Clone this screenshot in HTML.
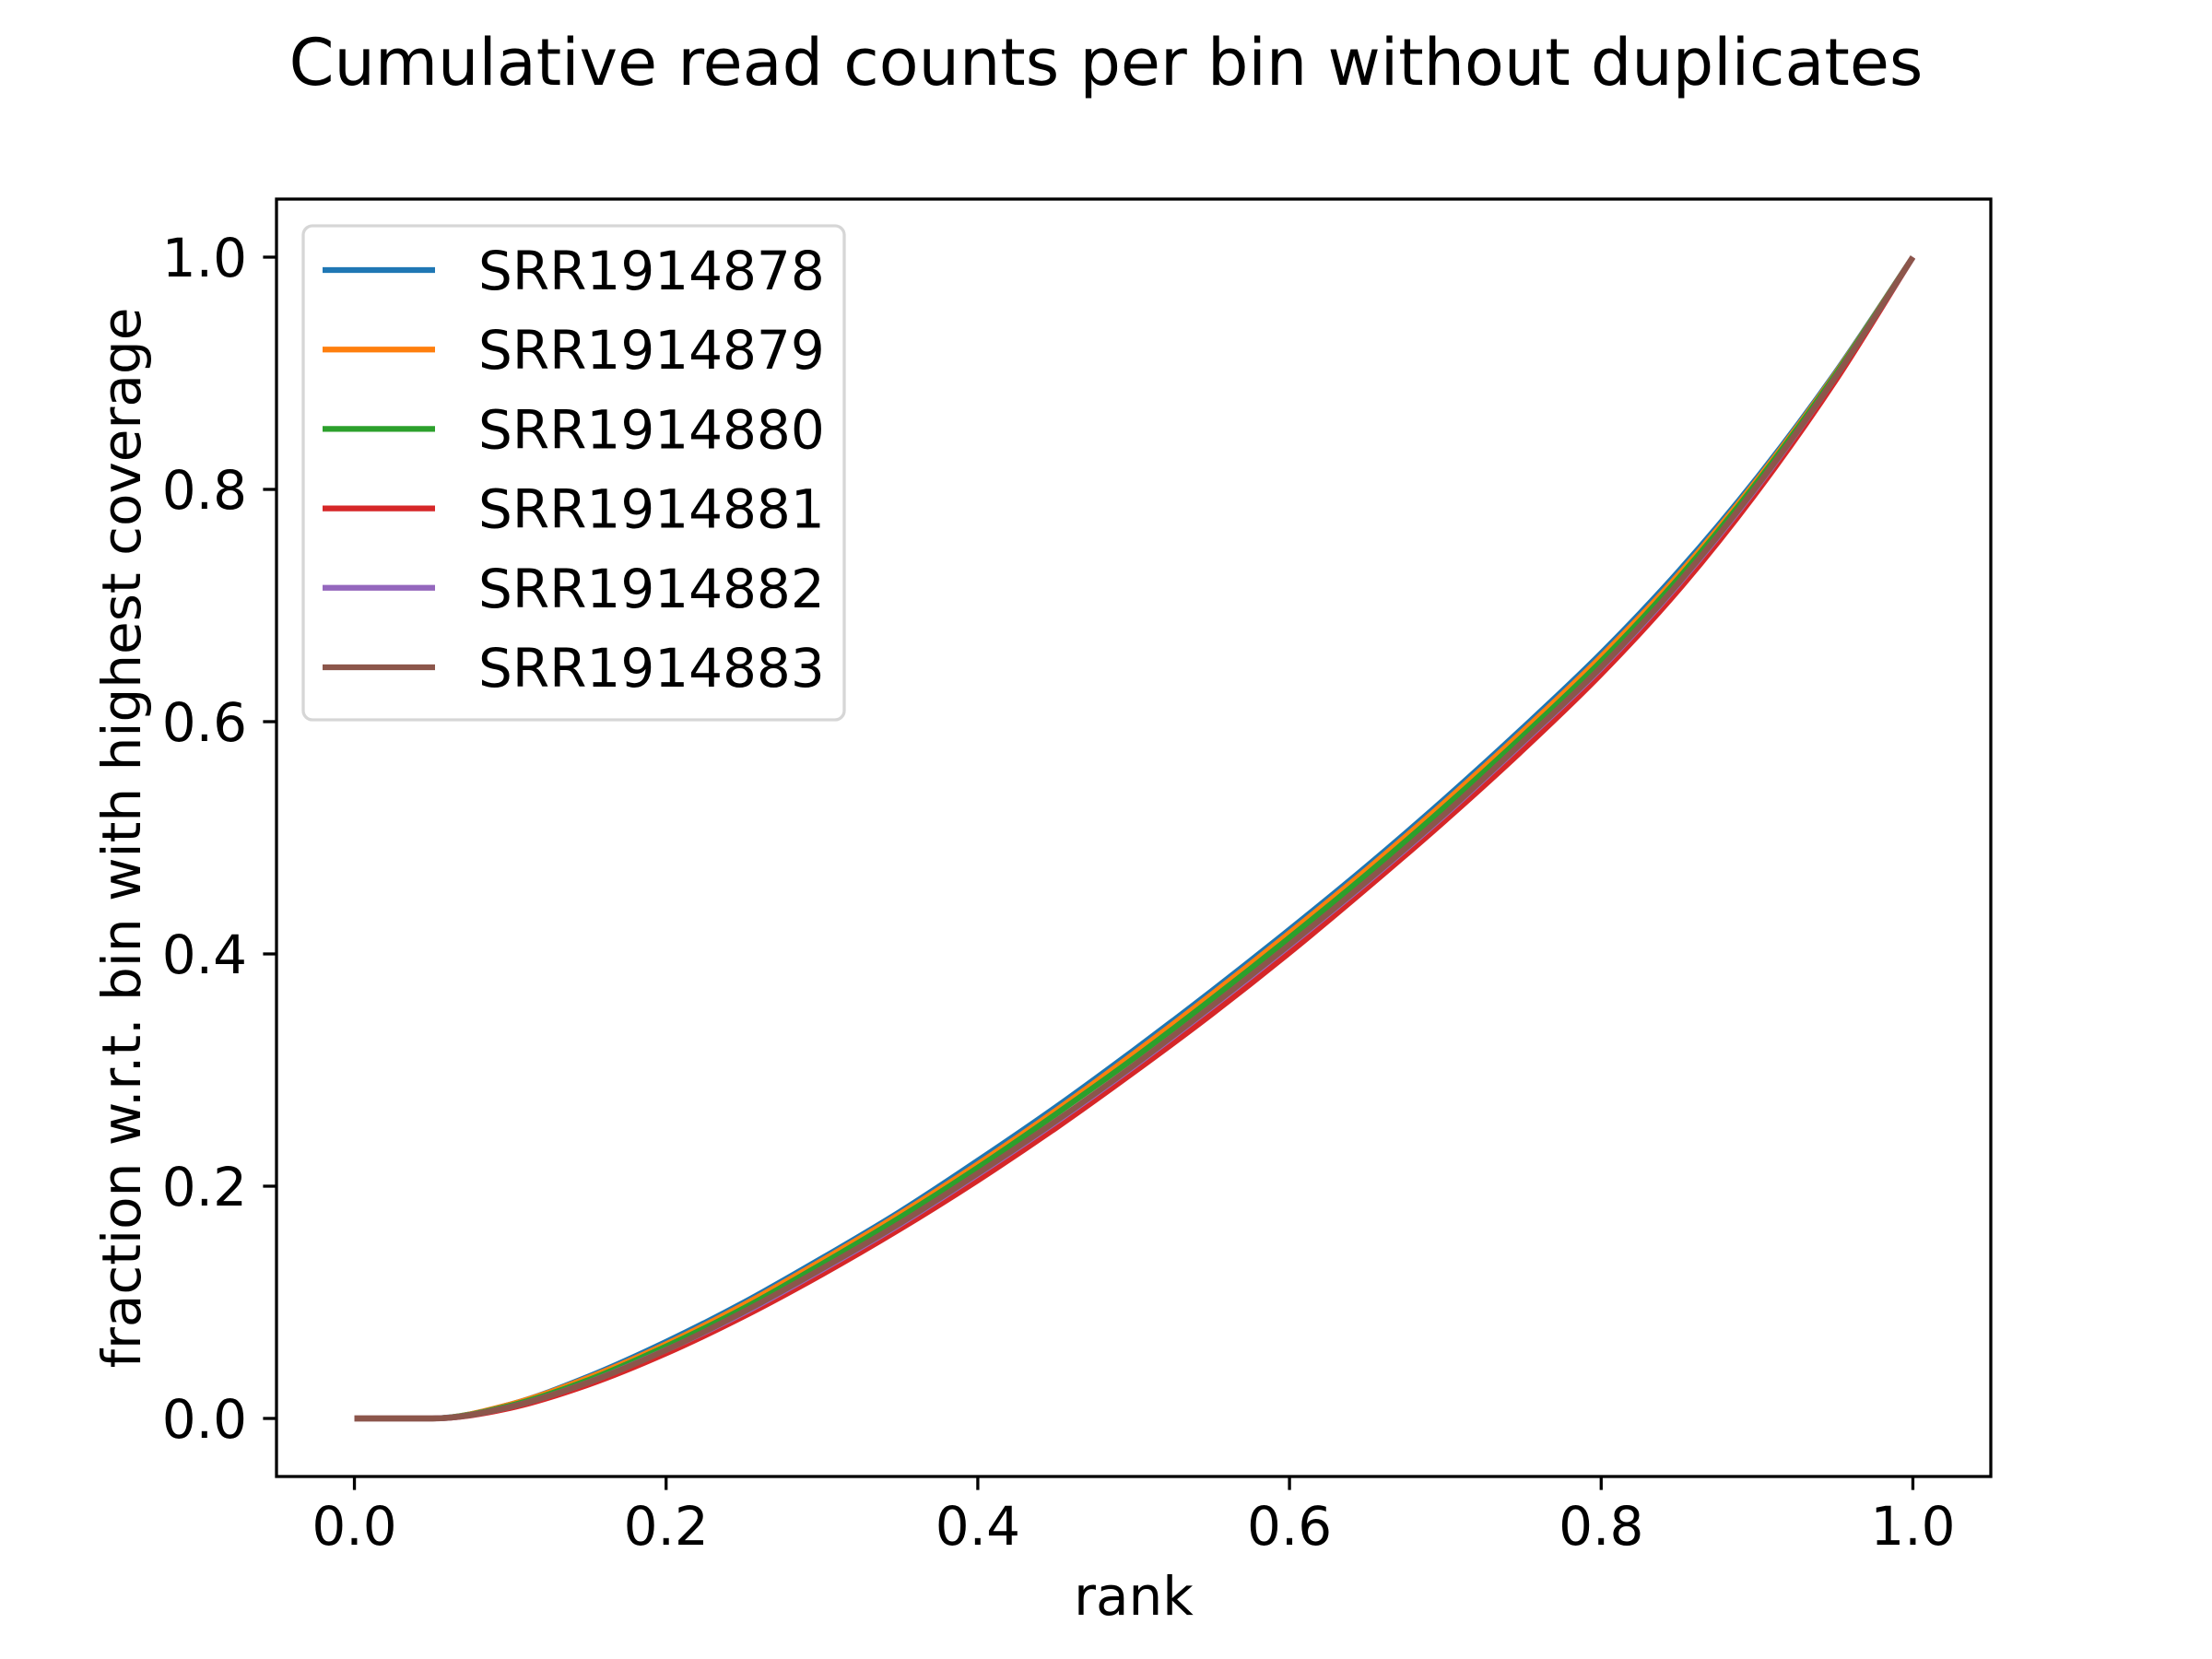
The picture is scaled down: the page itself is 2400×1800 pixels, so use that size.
<!DOCTYPE html>
<html><head><meta charset="utf-8"><style>
html,body{margin:0;padding:0;background:#fff}
svg{display:block}
text{font-family:"DejaVu Sans","Liberation Sans",sans-serif;fill:#000}
</style></head><body>
<svg id="chart" width="2400" height="1800" viewBox="0 0 2400 1800" xmlns="http://www.w3.org/2000/svg">
<text x="1200" y="92" font-size="70" text-anchor="middle">Cumulative read counts per bin without duplicates</text>
<g id="plot"></g>
<rect x="300" y="216" width="1860" height="1386" fill="none" stroke="#000" stroke-width="3.3"/>
<g id="ticks"></g>
<text x="1230" y="1752" font-size="58" text-anchor="middle">rank</text>
<text transform="translate(152,909) rotate(-90)" font-size="58" text-anchor="middle">fraction w.r.t. bin with highest coverage</text>
<g id="legend"></g>
</svg>
<script>
const xs = [0,0.05,0.1,0.15,0.2,0.25,0.3,0.35,0.4,0.45,0.5,0.55,0.6,0.65,0.7,0.75,0.8,0.85,0.9,0.95,1];
const names = ["SRR1914878","SRR1914879","SRR1914880","SRR1914881","SRR1914882","SRR1914883"];
const colors = ["#1f77b4","#ff7f0e","#2ca02c","#d62728","#9467bd","#8c564b"];
const s878 = [0,0,0.012,0.036,0.066,0.100,0.138,0.178,0.222,0.268,0.317,0.368,0.421,0.476,0.534,0.595,0.659,0.730,0.810,0.900,1];
const s879 = [0,0,0.012,0.035,0.064,0.098,0.136,0.176,0.219,0.265,0.314,0.365,0.418,0.473,0.531,0.592,0.656,0.727,0.808,0.899,1];
const s880 = [0,0,0.011,0.033,0.062,0.095,0.133,0.173,0.216,0.262,0.310,0.361,0.414,0.469,0.527,0.588,0.652,0.724,0.806,0.898,1];
const s881 = [0,0,0.009,0.029,0.056,0.088,0.124,0.163,0.205,0.250,0.298,0.348,0.401,0.457,0.515,0.576,0.641,0.714,0.798,0.893,1];
const s882 = [0,0,0.010,0.031,0.059,0.091,0.128,0.167,0.210,0.255,0.303,0.354,0.407,0.462,0.520,0.582,0.646,0.719,0.802,0.896,1];
const s883 = [0,0,0.010,0.031,0.059,0.092,0.129,0.168,0.211,0.256,0.304,0.355,0.408,0.463,0.521,0.583,0.647,0.720,0.803,0.896,1];
const series = [s878,s879,s880,s881,s882,s883];
const tickVals = [0,0.2,0.4,0.6,0.8,1.0];
const tickLabels = ["0.0","0.2","0.4","0.6","0.8","1.0"];

const NS="http://www.w3.org/2000/svg";
const L=300,R=2160,T=216,B=1602;
function sx(v){return L+(v+0.05)/1.1*(R-L);}
function sy(v){return B-(v+0.05)/1.1*(B-T);}
function mk(tag,attrs,parent){const e=document.createElementNS(NS,tag);for(const k in attrs)e.setAttribute(k,attrs[k]);parent.appendChild(e);return e;}

function monotonePath(xv,yv){
  const n=xv.length, d=[], m=new Array(n);
  for(let i=0;i<n-1;i++) d.push((yv[i+1]-yv[i])/(xv[i+1]-xv[i]));
  m[0]=d[0]; m[n-1]=d[n-2];
  for(let i=1;i<n-1;i++) m[i]=(d[i-1]*d[i]<=0)?0:(d[i-1]+d[i])/2;
  for(let i=0;i<n-1;i++){
    if(d[i]===0){m[i]=0;m[i+1]=0;continue;}
    const a=m[i]/d[i], b=m[i+1]/d[i], s=a*a+b*b;
    if(s>9){const t=3/Math.sqrt(s);m[i]=t*a*d[i];m[i+1]=t*b*d[i];}
  }
  let p=`M${sx(xv[0])},${sy(yv[0])}`;
  for(let i=0;i<n-1;i++){
    const h=xv[i+1]-xv[i];
    const c1x=xv[i]+h/3, c1y=yv[i]+m[i]*h/3;
    const c2x=xv[i+1]-h/3, c2y=yv[i+1]-m[i+1]*h/3;
    p+=` C${sx(c1x)},${sy(c1y)} ${sx(c2x)},${sy(c2y)} ${sx(xv[i+1])},${sy(yv[i+1])}`;
  }
  return p;
}

const plot=document.getElementById('plot');
series.forEach((s,i)=>{
  const p=mk('path',{d:monotonePath(xs,s),fill:'none',stroke:colors[i],'stroke-width':6.25},plot);
  
  
});

const tk=document.getElementById('ticks');
tickVals.forEach((v,i)=>{
  const x=sx(v);
  const t1=mk('line',{x1:x,x2:x,y1:B,y2:B+14.6,stroke:'#000','stroke-width':3.3},tk);
  
  
  const l1=mk('text',{x:x,y:1676,'font-size':58,'text-anchor':'middle'},tk);
  l1.textContent=tickLabels[i];
  
  
  const y=sy(v);
  const t2=mk('line',{x1:L-14.6,x2:L,y1:y,y2:y,stroke:'#000','stroke-width':3.3},tk);
  
  
  const l2=mk('text',{x:268,y:y+21,'font-size':58,'text-anchor':'end'},tk);
  l2.textContent=tickLabels[i];
  
  
});

const lg=document.getElementById('legend');
const fr=mk('rect',{x:329,y:245,width:587,height:536,rx:10,fill:'#fff','fill-opacity':0.8,stroke:'#d6d6d6','stroke-width':3.3},lg);


names.forEach((n,i)=>{
  const y=293+i*86.2;
  const ln=mk('line',{x1:350,x2:472,y1:y,y2:y,stroke:colors[i],'stroke-width':6.25},lg);
  
  
  const tx=mk('text',{x:519,y:y+21,'font-size':58},lg);
  tx.textContent=n;
  
  
});
</script>
</body></html>
